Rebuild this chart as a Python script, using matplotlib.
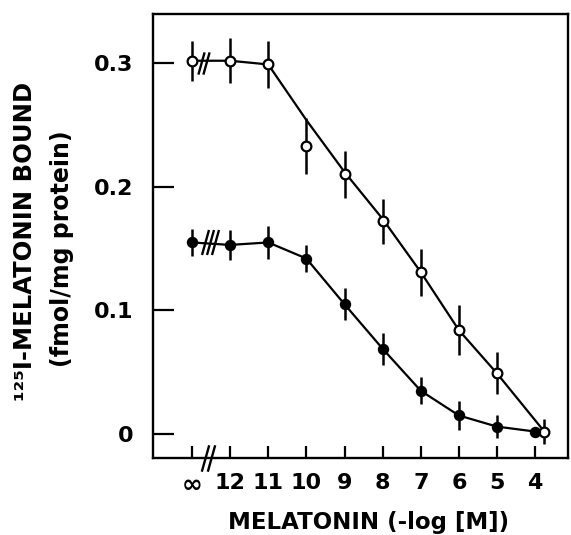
import matplotlib
matplotlib.use("Agg")
import matplotlib.pyplot as plt
import numpy as np
from matplotlib.path import Path

# ---- data ----
conc_labels = ["\u221e", "12", "11", "10", "9", "8", "7", "6", "5", "4"]
neg_log_M = [np.inf, 12, 11, 10, 9, 8, 7, 6, 5, 4]

open_mean = [0.302, 0.302, 0.299, 0.233, 0.210, 0.172, 0.131, 0.084, 0.049, 0.002]
open_err = [0.016, 0.018, 0.019, 0.023, 0.019, 0.018, 0.019, 0.020, 0.017, 0.010]
open_fit = [0.302, 0.302, 0.299, 0.254, 0.212, 0.174, 0.131, 0.084, 0.049, 0.002]

filled_mean = [0.155, 0.153, 0.155, 0.142, 0.105, 0.069, 0.035, 0.015, 0.006, 0.002]
filled_err = [0.011, 0.012, 0.013, 0.011, 0.013, 0.013, 0.011, 0.012, 0.009, 0.004]

y_ticks = [0, 0.1, 0.2, 0.3]
y_ticklabels = ["0", "0.1", "0.2", "0.3"]

# ---- layout helpers ----
INF_POS = 13  # "infinity" drawn one step left of 12 (broken axis)
x = np.array([INF_POS if np.isinf(v) else v for v in neg_log_M], dtype=float)
open_x = x.copy()
open_x[-1] -= 0.24  # last open circle drawn slightly right to avoid overlap

plt.rcParams["font.family"] = ["DejaVu Sans"]
plt.rcParams["font.weight"] = "bold"

fig = plt.figure(figsize=(5.71, 5.35), dpi=100)
ax = fig.add_axes([0.2674, 0.1439, 0.9947 - 0.2674, 0.9738 - 0.1439])

lw = 1.6
# error bars
ax.vlines(open_x, np.array(open_mean) - open_err, np.array(open_mean) + open_err,
          color="black", lw=1.8, zorder=2)
ax.vlines(x, np.array(filled_mean) - filled_err, np.array(filled_mean) + filled_err,
          color="black", lw=1.8, zorder=2)
# curves
ax.plot(open_x, open_fit, color="black", lw=lw, zorder=3)
ax.plot(x, filled_mean, color="black", lw=lw, zorder=3)
# markers
ax.plot(open_x, open_mean, "o", ms=7, mfc="white", mec="black", mew=1.6,
        ls="none", zorder=5)
ax.plot(x, filled_mean, "o", ms=7.2, mfc="black", mec="black", mew=1.0,
        ls="none", zorder=5)

# break marks
slash = Path([(-0.28, -1), (0.28, 1)], [Path.MOVETO, Path.LINETO])
ax.plot([12.75, 12.62], [0.300, 0.300], ls="none", marker=slash, ms=16,
        mec="black", mew=1.7, zorder=6, clip_on=False)
ax.plot([12.67, 12.54, 12.39], [0.155, 0.155, 0.155], ls="none", marker=slash,
        ms=18, mec="black", mew=1.7, zorder=6, clip_on=False)
ax.plot([12.66, 12.5], [-0.0194, -0.0194], ls="none", marker=slash, ms=19,
        mec="black", mew=1.7, zorder=6, clip_on=False)

ax.set_xlim(14.03, 3.14)
ax.set_ylim(-0.0194, 0.3398)

ax.set_xticks(x)
ax.set_xticklabels(conc_labels)
ax.set_yticks(y_ticks)
ax.set_yticklabels(y_ticklabels)

ax.tick_params(axis="y", direction="in", length=15, width=1.6, pad=14,
               labelsize=16)
ax.tick_params(axis="x", direction="in", length=8.5, width=1.6, pad=11,
               labelsize=16)
for lab in ax.get_xticklabels() + ax.get_yticklabels():
    lab.set_fontweight("bold")
ax.get_xticklabels()[0].set_fontsize(18)

for s in ax.spines.values():
    s.set_linewidth(1.7)

fig.text(368.5 / 571, 1 - 529 / 535, "MELATONIN (-log [M])", ha="center",
         va="baseline", fontsize=16.5, fontweight="bold")
fig.text(25 / 571, 1 - 241.5 / 535, "\u00b9\u00b2\u2075I-MELATONIN BOUND",
         rotation=90, ha="center", va="center", fontsize=17.5, fontweight="bold")
fig.text(62 / 571, 1 - 248.5 / 535, "(fmol/mg protein)",
         rotation=90, ha="center", va="center", fontsize=17, fontweight="bold")

fig.savefig("out.png", dpi=100, facecolor="white")
